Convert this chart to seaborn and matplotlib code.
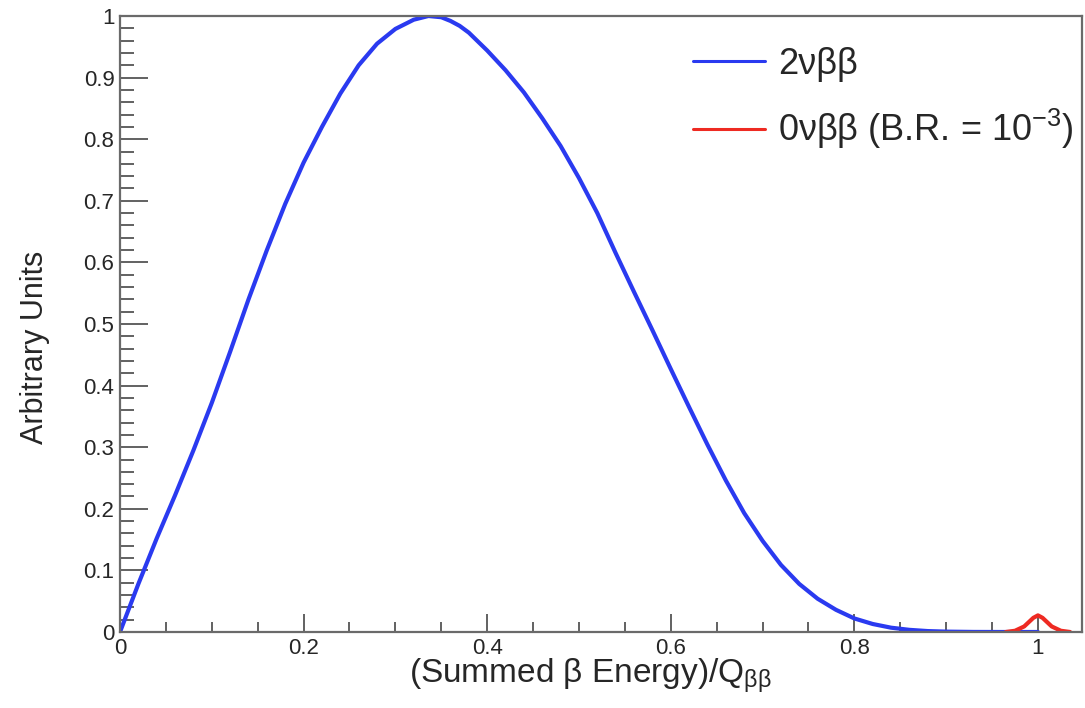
import numpy as np
import pandas as pd
import seaborn as sns
import matplotlib
matplotlib.use("Agg")
import matplotlib.pyplot as plt
from matplotlib.ticker import MultipleLocator, FixedLocator

# ---- data ----
x_2nu = [0.00, 0.02, 0.04, 0.06, 0.08, 0.10, 0.12, 0.14, 0.16, 0.18,
         0.20, 0.22, 0.24, 0.26, 0.28, 0.30, 0.32, 0.336, 0.35, 0.36,
         0.37, 0.38, 0.40, 0.42, 0.44, 0.46, 0.48, 0.50, 0.52, 0.54,
         0.56, 0.58, 0.60, 0.62, 0.64, 0.66, 0.68, 0.70, 0.72, 0.74,
         0.76, 0.78, 0.80, 0.82, 0.84, 0.86, 0.88, 0.90, 0.93, 0.96, 1.00]
y_2nu = [0.000, 0.078, 0.152, 0.222, 0.295, 0.372, 0.455, 0.540, 0.620, 0.695,
         0.762, 0.820, 0.874, 0.920, 0.955, 0.979, 0.994, 1.000, 0.998, 0.992,
         0.984, 0.973, 0.944, 0.912, 0.876, 0.834, 0.789, 0.737, 0.680, 0.615,
         0.552, 0.490, 0.427, 0.365, 0.304, 0.246, 0.193, 0.148, 0.109, 0.078,
         0.054, 0.036, 0.022, 0.013, 0.007, 0.0035, 0.0015, 0.0006, 0.0001, 0.0, 0.0]

x_0nu = [0.965, 0.975, 0.985, 0.99, 0.995, 1.0, 1.005, 1.01, 1.015, 1.025, 1.035]
y_0nu = [0.0, 0.002, 0.009, 0.016, 0.023, 0.027, 0.023, 0.016, 0.009, 0.002, 0.0]

x_ticks = [0, 0.2, 0.4, 0.6, 0.8, 1.0]
x_tick_labels = ["0", "0.2", "0.4", "0.6", "0.8", "1"]
y_ticks = [0, 0.1, 0.2, 0.3, 0.4, 0.5, 0.6, 0.7, 0.8, 0.9, 1.0]
y_tick_labels = ["0", "0.1", "0.2", "0.3", "0.4", "0.5", "0.6", "0.7", "0.8", "0.9", "1"]

label_2nu = "2νββ"
label_0nu = r"0νββ (B.R. = 10$^{\mathregular{-3}}$)"

df2 = pd.DataFrame({"x": x_2nu, "y": y_2nu})
df0 = pd.DataFrame({"x": x_0nu, "y": y_0nu})

sns.set_theme(style="white")
plt.rcParams["font.family"] = ["Liberation Sans", "DejaVu Sans"]
plt.rcParams["mathtext.fontset"] = "custom"
plt.rcParams["mathtext.rm"] = "Liberation Sans"
plt.rcParams["mathtext.it"] = "Liberation Sans:italic"
plt.rcParams["mathtext.bf"] = "Liberation Sans:bold"

W, H = 1085, 708
fig = plt.figure(figsize=(W / 100, H / 100), dpi=100)
ax = fig.add_axes([120 / W, (H - 632) / H, (1082 - 120) / W, (632 - 16) / H])

blue = "#2a3af0"
red = "#ee2a22"
sns.lineplot(data=df2, x="x", y="y", ax=ax, color=blue, lw=3.0, sort=False,
             label=label_2nu, estimator=None)
sns.lineplot(data=df0, x="x", y="y", ax=ax, color=red, lw=3.0, sort=False,
             label=label_0nu, estimator=None)

ax.set_xlim(0, 1.048)
ax.set_ylim(0, 1.0)

ax.xaxis.set_major_locator(FixedLocator(x_ticks))
ax.set_xticklabels(x_tick_labels)
ax.xaxis.set_minor_locator(MultipleLocator(0.05))
ax.yaxis.set_major_locator(FixedLocator(y_ticks))
ax.set_yticklabels(y_tick_labels)
ax.yaxis.set_minor_locator(MultipleLocator(0.02))

tick_col = "#555555"
ax.tick_params(axis="x", which="major", direction="in", length=13, width=1.3,
               color=tick_col, labelsize=16, pad=4, bottom=True, top=False)
ax.tick_params(axis="x", which="minor", direction="in", length=7, width=1.3,
               color=tick_col, bottom=True, top=False)
ax.tick_params(axis="y", which="major", direction="in", length=20, width=1.3,
               color=tick_col, labelsize=16, pad=4, left=True, right=False)
ax.tick_params(axis="y", which="minor", direction="in", length=10, width=1.3,
               color=tick_col, left=True, right=False)
for s in ax.spines.values():
    s.set_color("#6a6a6a")
    s.set_linewidth(1.6)

ax.set_xlabel(r"(Summed β Energy)/Q$_{\mathregular{ββ}}$", fontsize=24)
ax.set_ylabel("Arbitrary Units", fontsize=22)
ax.xaxis.set_label_coords((590 - 120) / (1082 - 120), -(676 - 632) / (632 - 16))
ax.yaxis.set_label_coords(-(120 - 35) / (1082 - 120), (632 - 347) / (632 - 16))
ax.xaxis.label.set_va("center")
ax.yaxis.label.set_va("center")

leg = ax.legend(loc="upper left", bbox_to_anchor=(693 / W, (H - 47) / H),
                bbox_transform=fig.transFigure, frameon=False, fontsize=26,
                handlelength=2.0, handletextpad=0.35, labelspacing=0.7,
                borderpad=0, borderaxespad=0)
for line in leg.get_lines():
    line.set_linewidth(2.2)

fig.savefig("out.png", dpi=100, facecolor="white")
